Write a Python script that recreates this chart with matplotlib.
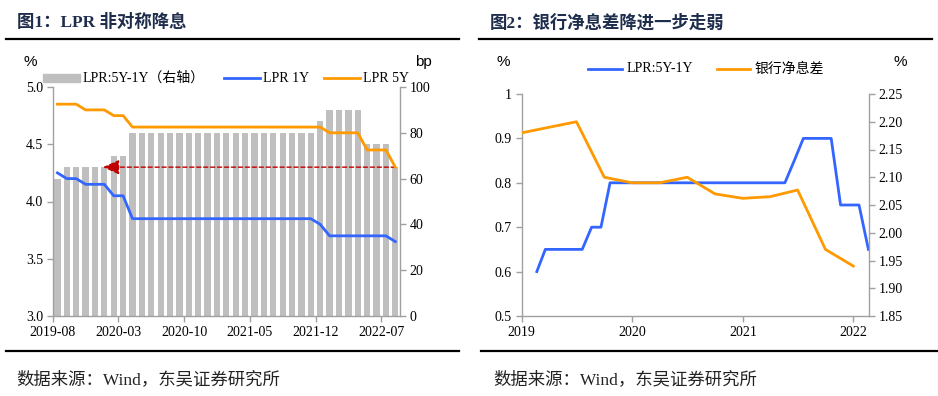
import matplotlib
matplotlib.use('Agg')
import matplotlib.pyplot as plt
from matplotlib.lines import Line2D
from matplotlib.patches import Rectangle
import matplotlib.dates as mdates
import pandas as pd

# ---------------- data: figure 1 ----------------
left_tick_labels = ['2019-08', '2020-03', '2020-10', '2021-05', '2021-12', '2022-07']
left_months = pd.date_range('2019-08-01', '2022-08-01', freq='MS')
lpr_1y = [4.25, 4.20, 4.20, 4.15, 4.15, 4.15, 4.05, 4.05,
          3.85, 3.85, 3.85, 3.85, 3.85, 3.85, 3.85, 3.85, 3.85, 3.85,
          3.85, 3.85, 3.85, 3.85, 3.85, 3.85, 3.85, 3.85, 3.85, 3.85,
          3.80, 3.70, 3.70, 3.70, 3.70, 3.70, 3.70, 3.70, 3.65]
lpr_5y = [4.85, 4.85, 4.85, 4.80, 4.80, 4.80, 4.75, 4.75,
          4.65, 4.65, 4.65, 4.65, 4.65, 4.65, 4.65, 4.65, 4.65, 4.65,
          4.65, 4.65, 4.65, 4.65, 4.65, 4.65, 4.65, 4.65, 4.65, 4.65,
          4.65, 4.60, 4.60, 4.60, 4.60, 4.45, 4.45, 4.45, 4.30]
spread_bp = [60, 65, 65, 65, 65, 65, 70, 70,
             80, 80, 80, 80, 80, 80, 80, 80, 80, 80,
             80, 80, 80, 80, 80, 80, 80, 80, 80, 80,
             85, 90, 90, 90, 90, 75, 75, 75, 65]
arrow_from, arrow_to, arrow_level = 36, 4.85, 65

# ---------------- data: figure 2 ----------------
spread_dates = pd.date_range('2019-02-20', periods=37, freq=pd.DateOffset(months=1))
spread_pct = [0.60, 0.65, 0.65, 0.65, 0.65, 0.65, 0.70, 0.70,
              0.80, 0.80, 0.80, 0.80, 0.80, 0.80, 0.80, 0.80, 0.80, 0.80,
              0.80, 0.80, 0.80, 0.80, 0.80, 0.80, 0.80, 0.80, 0.80, 0.80,
              0.85, 0.90, 0.90, 0.90, 0.90, 0.75, 0.75, 0.75, 0.65]
nim_dates = pd.date_range('2019-01-01', '2022-01-01', freq='QS')
nim = [2.18, 2.19, 2.20, 2.10, 2.09, 2.09, 2.10, 2.07, 2.062, 2.065, 2.077, 1.97, 1.94]
right_left_ticks = [0.5, 0.6, 0.7, 0.8, 0.9, 1.0]
right_left_labels = ['0.5', '0.6', '0.7', '0.8', '0.9', '1']
right_right_ticks = [1.85, 1.90, 1.95, 2.00, 2.05, 2.10, 2.15, 2.20, 2.25]

BLUE = '#3366FF'
ORANGE = '#FF9900'
GRAY = '#BFBFBF'
SPINE = '#A0A0A0'
RED = '#C00000'
TITLE_C = '#1F2D4D'
SERIF = ['Liberation Serif', 'Noto Sans CJK SC']
SANS = ['Liberation Sans', 'DejaVu Sans']

plt.rcParams['font.family'] = SERIF
plt.rcParams['font.size'] = 10

W, H = 938, 396
fig = plt.figure(figsize=(W / 100, H / 100), dpi=100)


def fx(px):
    return px / W


def fy(py):
    return 1 - py / H


def style_axes(ax, sides):
    for s in ['left', 'right', 'top', 'bottom']:
        ax.spines[s].set_visible(s in sides)
        ax.spines[s].set_color(SPINE)
        ax.spines[s].set_linewidth(1.0)
    ax.tick_params(direction='out', length=4, width=1, color=SPINE, labelsize=10, pad=3)


# ================= left chart =================
ax1 = fig.add_axes([fx(52.7), fy(316), fx(400 - 52.7), (316 - 87) / H])
ax2 = ax1.twinx()
x = list(range(len(spread_bp)))
ax2.bar(x, spread_bp, width=0.67, color=GRAY, zorder=1)
ax2.set_ylim(0, 100)
ax2.set_yticks([0, 20, 40, 60, 80, 100])
ax2.annotate('', xy=(arrow_to, arrow_level), xytext=(arrow_from, arrow_level),
             arrowprops=dict(arrowstyle='-|>,head_length=1.0,head_width=0.45',
                             color=RED, lw=1.0, linestyle=(0, (3, 2)),
                             shrinkA=0, shrinkB=0))
ax1.plot(x, lpr_1y, color=BLUE, lw=2.0, zorder=3)
ax1.plot(x, lpr_5y, color=ORANGE, lw=2.0, zorder=3)
ax1.set_ylim(3.0, 5.0)
ax1.set_yticks([3.0, 3.5, 4.0, 4.5, 5.0])
ax1.set_yticklabels(['3.0', '3.5', '4.0', '4.5', '5.0'])
ax1.set_xlim(-0.5, len(x) - 0.5)
tick_pos = [i - 0.5 for i in range(0, len(x), 7)][:len(left_tick_labels)]
ax1.set_xticks(tick_pos)
ax1.set_xticklabels(left_tick_labels)
ax1.set_zorder(ax2.get_zorder() + 1)
ax1.patch.set_visible(False)
style_axes(ax1, ['left', 'bottom'])
style_axes(ax2, ['right'])
ax2.tick_params(axis='x', length=0)

# ================= right chart =================
ax3 = fig.add_axes([fx(521.7), fy(316), fx(869 - 521.7), (316 - 94) / H])
ax4 = ax3.twinx()
ax3.plot(spread_dates, spread_pct, color=BLUE, lw=2.0)
ax4.plot(nim_dates, nim, color=ORANGE, lw=2.0)
ax3.set_ylim(0.5, 1.0)
ax3.set_yticks(right_left_ticks)
ax3.set_yticklabels(right_left_labels)
ax4.set_ylim(1.85, 2.25)
ax4.set_yticks(right_right_ticks)
ax4.set_yticklabels(['%.2f' % v for v in right_right_ticks])
ax3.set_xlim(pd.Timestamp('2019-01-01'), pd.Timestamp('2022-02-22'))
ax3.xaxis.set_major_locator(mdates.YearLocator())
ax3.xaxis.set_major_formatter(mdates.DateFormatter('%Y'))
style_axes(ax3, ['left', 'bottom'])
style_axes(ax4, ['right'])

# ================= decorations =================
fig.text(fx(17), fy(22.5), '图1：LPR 非对称降息', fontsize=12.5, fontweight='bold',
         color=TITLE_C, va='center', ha='left', family=SERIF)
fig.text(fx(490), fy(22.5), '图2：银行净息差降进一步走弱', fontsize=12.5, fontweight='bold',
         color=TITLE_C, va='center', ha='left', family=SERIF)
for x0, x1 in [(6, 459), (479, 932)]:
    fig.add_artist(Line2D([fx(x0), fx(x1)], [fy(39), fy(39)], color='black', lw=1.6))
for x0, x1 in [(6, 459), (481, 937)]:
    fig.add_artist(Line2D([fx(x0), fx(x1)], [fy(351), fy(351)], color='black', lw=1.6))
for x0 in [16, 493]:
    fig.text(fx(x0), fy(380), '数据来源：Wind，东吴证券研究所', fontsize=12.5,
             color='#222222', va='center', ha='left', family=SERIF)

# unit labels
fig.text(fx(30), fy(62), '%', fontsize=11, family=SANS, ha='center', va='center')
fig.text(fx(423), fy(62), 'bp', fontsize=11, family=SANS, ha='center', va='center')
fig.text(fx(503), fy(62), '%', fontsize=11, family=SANS, ha='center', va='center')
fig.text(fx(900), fy(62), '%', fontsize=11, family=SANS, ha='center', va='center')

# legends (figure 1)
ly = 78
fig.add_artist(Rectangle((fx(43), fy(ly + 4)), fx(37), 8 / H, color=GRAY,
                         transform=fig.transFigure))
fig.text(fx(83), fy(ly), 'LPR:5Y-1Y（右轴）', fontsize=10, va='center', ha='left')
fig.add_artist(Line2D([fx(224), fx(260)], [fy(ly), fy(ly)], color=BLUE, lw=2.0))
fig.text(fx(263), fy(ly), 'LPR 1Y', fontsize=10, va='center', ha='left')
fig.add_artist(Line2D([fx(324), fx(360)], [fy(ly), fy(ly)], color=ORANGE, lw=2.0))
fig.text(fx(363), fy(ly), 'LPR 5Y', fontsize=10, va='center', ha='left')

# legends (figure 2)
ry = 69
fig.add_artist(Line2D([fx(588), fx(622)], [fy(ry), fy(ry)], color=BLUE, lw=2.0))
fig.text(fx(627), fy(ry), 'LPR:5Y-1Y', fontsize=10, va='center', ha='left')
fig.add_artist(Line2D([fx(717), fx(750)], [fy(ry), fy(ry)], color=ORANGE, lw=2.0))
fig.text(fx(755), fy(ry), '银行净息差', fontsize=10, va='center', ha='left')

fig.savefig('out.png', dpi=100)
